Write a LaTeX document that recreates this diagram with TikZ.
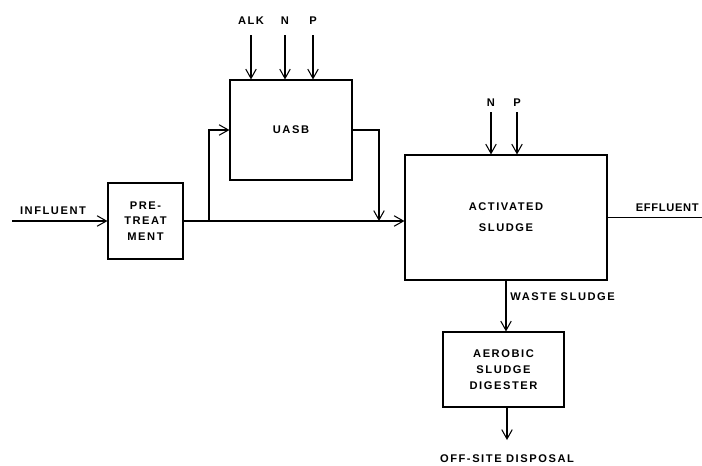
\documentclass[tikz,border=0pt]{standalone}
\usepackage{fontspec}
\setmainfont{Liberation Sans}
\usetikzlibrary{arrows.meta, positioning}
\newfontfamily\lblfont[LetterSpace=14]{Liberation Sans Bold}
\newfontfamily\efffont[LetterSpace=6]{Liberation Sans Bold}
\tikzset{
  unit/.style = {draw, rectangle, line width=0.9pt, align=center,
                 font=\lblfont\fontsize{9.5}{13.5}\selectfont, inner sep=0pt},
  arr/.style  = {-{Straight Barb[length=8pt, width=9pt]}, line width=0.9pt},
  ln/.style   = {line width=0.9pt},
  lbl/.style  = {font=\lblfont\fontsize{9.5}{10}\selectfont, inner sep=1pt}
}
\begin{document}
\begin{tikzpicture}[x=0.03cm, y=-0.03cm]
  \useasboundingbox (0,0) rectangle (702,465);

  % -- process units ---------------------------------------------------------
  \node[unit, minimum width=2.25cm, minimum height=2.28cm] (pre)  at (145.5,221)  {PRE-\\TREAT\\MENT};
  \node[unit, minimum width=3.66cm, minimum height=3.0cm]  (uasb) at (291,130)    {UASB};
  \node[unit, minimum width=6.06cm, minimum height=3.75cm,
        font=\lblfont\fontsize{9.5}{18}\selectfont]         (as)   at (506,217.5) {ACTIVATED\\SLUDGE};
  \node[unit, minimum width=3.63cm, minimum height=2.25cm] (dig)  at (503.5,369.5) {AEROBIC\\SLUDGE\\DIGESTER};

  % -- chemical feeds --------------------------------------------------------
  \node[lbl] (alk) at (251,21) {ALK};
  \node[lbl] (n1)  at (285,21) {N};
  \node[lbl] (p1)  at (313,21) {P};
  \node[lbl] (n2)  at (491,103) {N};
  \node[lbl] (p2)  at (517,103) {P};

  \draw[arr] (251,35)  -- (uasb.north -| alk);
  \draw[arr] (285,35)  -- (uasb.north -| n1);
  \draw[arr] (313,35)  -- (uasb.north -| p1);
  \draw[arr] (491,112) -- (as.north -| n2);
  \draw[arr] (517,112) -- (as.north -| p2);

  % -- influent --------------------------------------------------------------
  \coordinate (inf) at (12,221);
  \draw[arr] (inf) -- (pre.west);
  \node[lbl] (inflbl) at (53,211) {INFLUENT};

  % -- main line and UASB loop -----------------------------------------------
  \coordinate (split) at (209,221);
  \coordinate (join)  at (379,221);
  \draw[arr] (pre.east) -- (pre.east -| as.west);
  \draw[arr] (split) |- (uasb.west);
  \draw[arr] (uasb.east) -| (join);

  % -- effluent --------------------------------------------------------------
  \coordinate (eff) at (702,217.5);
  \draw[ln] (as.east) -- (eff);
  \node[lbl, anchor=east, font=\efffont\fontsize{9.5}{10}\selectfont] (efflbl) at (700,208) {EFFLUENT};

  % -- sludge line -----------------------------------------------------------
  \draw[arr] (as.south) -- (dig.north -| as.south);
  \node[lbl, anchor=west] (waste) at (509,297) {WASTE\hspace{0.4em}SLUDGE};
  \coordinate (off) at (507,440);
  \draw[arr] (dig.south -| off) -- (off);
  \node[lbl] (disp) at (507,459) {OFF-SITE\hspace{0.4em}DISPOSAL};

\end{tikzpicture}
\end{document}
